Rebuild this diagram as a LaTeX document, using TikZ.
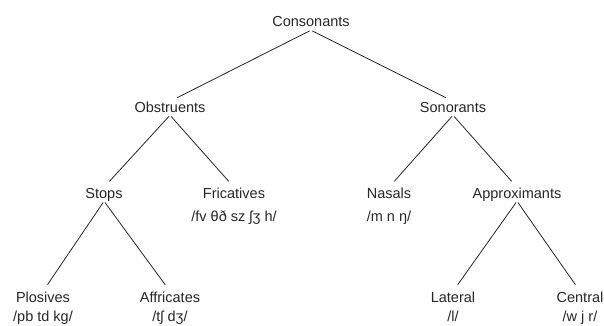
\documentclass[tikz,border=0pt]{standalone}
\usepackage{fontspec}
\setmainfont{Liberation Sans}
\begin{document}
\begin{tikzpicture}[x=1pt,y=-1pt,
  lbl/.style={inner sep=0pt, anchor=base, text height=10.5pt, text depth=3pt,
    font=\fontsize{14.5}{17}\selectfont, text=black!85},
  branch/.style={draw=black!85, line width=0.8pt, shorten <=1.5pt, shorten >=8pt}]
\useasboundingbox (0,0) rectangle (604,326);
% level 1
\node[lbl] (cons) at (311,27) {Consonants};
% level 2
\node[lbl] (obs) at (170,112) {Obstruents};
\node[lbl] (son) at (453,112) {Sonorants};
% level 3
\node[lbl] (stops) at (104,198) {Stops};
\node[lbl] (fric) at (234,198) {Fricatives};
\node[lbl] (fricipa) at (234,221) {/fv θð sz ʃʒ h/};
\node[lbl] (nas) at (389,198) {Nasals};
\node[lbl] (nasipa) at (389,221) {/m n ŋ/};
\node[lbl] (appr) at (517,198) {Approximants};
% level 4
\node[lbl] (plos) at (43,302) {Plosives};
\node[lbl] (plosipa) at (43,321) {/pb td kg/};
\node[lbl] (affr) at (170,302) {Affricates};
\node[lbl] (affripa) at (170,321) {/tʃ dʒ/};
\node[lbl] (lat) at (453,302) {Lateral};
\node[lbl] (latipa) at (453,321) {/l/};
\node[lbl] (cent) at (580,302) {Central};
\node[lbl] (centipa) at (580,321) {/w j r/};
% connectors
\draw[branch] (cons.south) -- (obs.north);
\draw[branch] (cons.south) -- (son.north);
\draw[branch] (obs.south) -- (stops.north);
\draw[branch] (obs.south) -- (fric.north);
\draw[branch] (son.south) -- (nas.north);
\draw[branch] (son.south) -- (appr.north);
\draw[branch] (stops.south) -- (plos.north);
\draw[branch] (stops.south) -- (affr.north);
\draw[branch] (appr.south) -- (lat.north);
\draw[branch] (appr.south) -- (cent.north);
\end{tikzpicture}
\end{document}
